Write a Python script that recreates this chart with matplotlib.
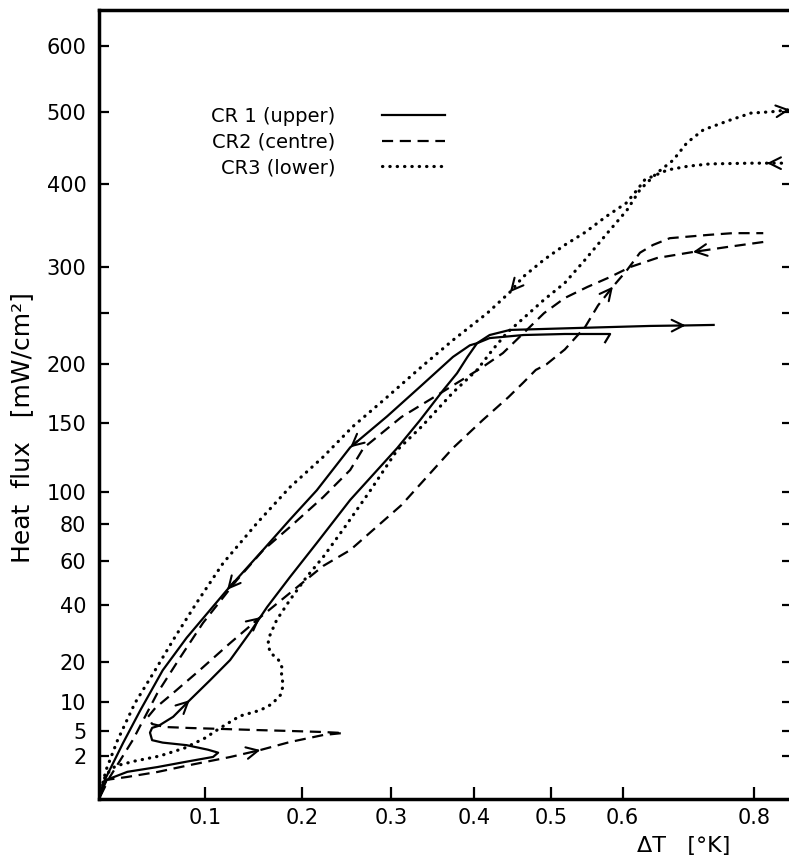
import numpy as np
import matplotlib.pyplot as plt

# ejes: x = delta T [K] (escala log(1+x)), y = flujo de calor (escala raiz)
x_ticks = [0.1, 0.2, 0.3, 0.4, 0.5, 0.6, 0.8]
x_tick_labels = ['0.1', '0.2', '0.3', '0.4', '0.5', '0.6', '0.8']
y_ticks = [2, 5, 10, 20, 40, 60, 80, 100, 150, 200, 300, 400, 500, 600]
y_minor = [250]

# CR1 (solido) subida y bajada
cr1_up_dt = [0, 0.007, 0.026, 0.054, 0.082, 0.108, 0.113, 0.103, 0.082, 0.059, 0.049, 0.047,
             0.049, 0.055, 0.069, 0.085, 0.105, 0.125, 0.145, 0.163, 0.187, 0.216, 0.253,
             0.307, 0.334, 0.362, 0.379, 0.392, 0.404, 0.420, 0.446, 0.539, 0.640, 0.693, 0.736]
cr1_up_q = [0, 0.4, 0.8, 1.1, 1.5, 1.9, 2.3, 2.6, 3.1, 3.4, 3.7, 4.7,
            5.4, 5.7, 7.2, 10.4, 15.0, 20.5, 29.3, 39.1, 52.2, 69.5, 94.8,
            130.5, 152, 177, 192, 207, 220, 228, 233, 235, 237, 237.5, 238]
cr1_down_dt = [0.575, 0.582, 0.519, 0.464, 0.420, 0.404, 0.395, 0.374, 0.334, 0.295, 0.253,
               0.216, 0.187, 0.159, 0.122, 0.082, 0.059, 0.038, 0.022, 0.004, 0]
cr1_down_q = [221, 229, 229, 228, 225, 220, 218, 207, 180, 155, 131,
              101, 82.7, 65.9, 46.4, 27.6, 17.6, 8.4, 3.35, 0.28, 0]

# CR2 (discontinuo)
cr2_up_dt = [0, 0.007, 0.026, 0.054, 0.085, 0.125, 0.156, 0.187, 0.223, 0.245, 0.223, 0.187,
             0.153, 0.118, 0.085, 0.061, 0.049, 0.045, 0.052, 0.069, 0.095, 0.125, 0.156,
             0.195, 0.223, 0.253, 0.312, 0.374, 0.411, 0.444, 0.464, 0.480, 0.494, 0.519,
             0.547, 0.565, 0.586, 0.606, 0.625, 0.644, 0.669, 0.729, 0.766, 0.815]
cr2_up_q = [0, 0.4, 0.53, 0.79, 1.24, 1.89, 2.57, 3.47, 4.37, 4.65, 4.79, 4.94,
            5.07, 5.23, 5.38, 5.53, 6.0, 7.16, 8.82, 11.95, 17.7, 25.8, 35.1,
            47.7, 57.6, 65.7, 91.6, 130.5, 152, 171, 184, 195, 200, 214,
            236, 258, 278, 296, 316, 325, 333, 337, 339, 339]
cr2_down_dt = [0.815, 0.757, 0.704, 0.650, 0.611, 0.582, 0.550, 0.519, 0.491, 0.464, 0.437,
               0.411, 0.385, 0.346, 0.312, 0.268, 0.253, 0.223, 0.187, 0.159, 0.132, 0.098,
               0.076, 0.054, 0.031, 0.010, 0]
cr2_down_q = [328.5, 322.6, 316.8, 309.9, 299.7, 288.5, 277.6, 265.8, 250, 230, 210.6,
              197.6, 186, 169, 154.6, 130.5, 114.7, 96.6, 78.4, 65.7, 50.9, 32.9,
              21.4, 11.95, 3.72, 0.53, 0]

# CR3 (punteado)
cr3_up_dt = [0, 0.006, 0.015, 0.033, 0.056, 0.080, 0.100, 0.115, 0.135, 0.156, 0.168, 0.177,
             0.180, 0.178, 0.179, 0.175, 0.166, 0.164, 0.166, 0.173, 0.187, 0.205, 0.223,
             0.247, 0.276, 0.307, 0.336, 0.374, 0.404, 0.424, 0.442, 0.464, 0.491, 0.519,
             0.547, 0.578, 0.606, 0.625, 0.650, 0.674, 0.695, 0.720, 0.762, 0.795, 0.829, 0.859]
cr3_up_q = [0, 0.62, 1.17, 1.55, 1.98, 2.78, 3.97, 5.38, 7.34, 8.4, 9.6, 11.5,
            13.8, 16.3, 18.2, 20.5, 22.9, 25.8, 28.5, 34, 42, 52.3, 62.1,
            78.4, 101, 129, 147, 175, 195, 214, 230, 245, 264, 282,
            308, 339, 367, 393, 415, 432, 456, 474, 488, 498, 500, 503]
cr3_down_dt = [0.845, 0.821, 0.795, 0.730, 0.697, 0.666, 0.632, 0.621, 0.605, 0.576, 0.547,
               0.519, 0.491, 0.463, 0.446, 0.417, 0.374, 0.336, 0.295, 0.256, 0.223, 0.187,
               0.153, 0.118, 0.092, 0.071, 0.052, 0.033, 0.017, 0.0065, 0]
cr3_down_q = [428, 428, 428, 427, 424, 419, 406, 393, 376, 359, 340,
              325, 308, 288.5, 272, 250, 223, 198, 171, 147, 124, 103,
              81, 59, 41, 28, 17.7, 9.8, 3.7, 0.9, 0]

fig = plt.figure(figsize=(7.89, 8.63), dpi=100)
ax = fig.add_axes([0.1252, 0.0738, 0.8786, 0.9146])
ax.set_xscale('function', functions=(np.log1p, np.expm1))
ax.set_yscale('function', functions=(lambda q: np.sqrt(np.clip(q, 0, None)), np.square))

solido = dict(color='k', lw=1.6)
rayas = dict(color='k', lw=1.6, ls=(0, (5, 3)))
puntos = dict(color='k', lw=2.3, ls=(0, (0.1, 2.2)), dash_capstyle='round')

ax.plot(cr1_up_dt, cr1_up_q, label='CR 1 (upper)', **solido)
ax.plot(cr1_down_dt, cr1_down_q, **solido)
ax.plot(cr2_up_dt, cr2_up_q, label='CR2 (centre)', **rayas)
ax.plot(cr2_down_dt, cr2_down_q, **rayas)
ax.plot(cr3_up_dt, cr3_up_q, label='CR3 (lower)', **puntos)
ax.plot(cr3_down_dt, cr3_down_q, **puntos)


# punta de flecha sobre el tramo que termina en el punto i
def flecha(xs, ys, i):
    x0, y0 = xs[i - 1], ys[i - 1]
    x1, y1 = xs[i], ys[i]
    ax.annotate('', xy=(x1, y1), xytext=(x0 + 0.8 * (x1 - x0), y0 + 0.8 * (y1 - y0)),
                arrowprops=dict(arrowstyle='->,head_length=0.6,head_width=0.3', color='k',
                                lw=1.5, shrinkA=0, shrinkB=0, mutation_scale=14))


flecha(cr1_up_dt, cr1_up_q, 15)
flecha(cr1_up_dt, cr1_up_q, 33)
flecha(cr1_down_dt, cr1_down_q, 10)
flecha(cr1_down_dt, cr1_down_q, 14)
flecha(cr2_up_dt, cr2_up_q, 6)
flecha(cr2_up_dt, cr2_up_q, 22)
flecha(cr2_up_dt, cr2_up_q, 36)
flecha(cr2_down_dt, cr2_down_q, 2)
flecha(cr3_up_dt, cr3_up_q, 45)
flecha(cr3_down_dt, cr3_down_q, 1)
flecha(cr3_down_dt, cr3_down_q, 14)

ax.set_xlim(0, 0.8624)
ax.set_ylim(0, 658.9)
ax.set_xticks(x_ticks)
ax.set_xticklabels(x_tick_labels)
ax.set_yticks(y_ticks)
ax.set_yticklabels([str(v) for v in y_ticks])
ax.set_yticks(y_minor, minor=True)

ax.tick_params(axis='both', which='both', direction='in', width=1.6, labelsize=15)
ax.tick_params(axis='y', which='both', length=7, pad=9, right=True)
ax.tick_params(axis='x', length=9, pad=6)
for s in ax.spines.values():
    s.set_linewidth(2.5)

ax.legend(loc='center', bbox_to_anchor=(0.416, 0.8355), bbox_transform=fig.transFigure,
          frameon=False, markerfirst=False, fontsize=14, handlelength=3.25,
          handletextpad=2.4, labelspacing=0.35)

fig.text(22 / 789, 1 - 428 / 863, 'Heat  flux   [mW/cm²]', rotation=90,
         ha='center', va='center', fontsize=18)
fig.text(637 / 789, 1 - 846 / 863, 'ΔT   [°K]', ha='left', va='center', fontsize=16)

fig.savefig('out.png', dpi=100)
